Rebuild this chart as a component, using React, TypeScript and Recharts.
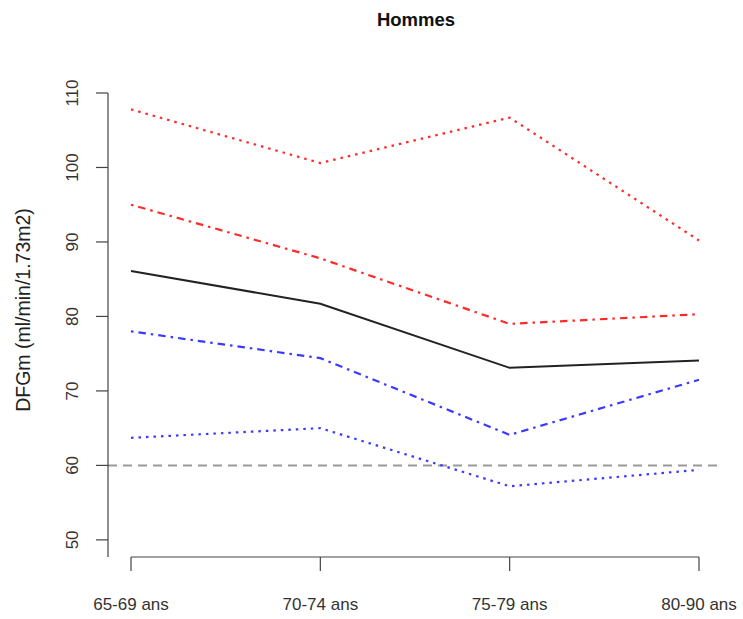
import { LineChart, Line, XAxis, YAxis, ReferenceLine } from 'recharts';

const categories = ['65-69 ans', '70-74 ans', '75-79 ans', '80-90 ans'];
const redDotted = [107.8, 100.6, 106.7, 90.2];
const redDashDot = [95.0, 87.8, 79.0, 80.3];
const meanLine = [86.1, 81.7, 73.1, 74.1];
const blueDashDot = [78.0, 74.4, 64.1, 71.5];
const blueDotted = [63.7, 65.0, 57.2, 59.4];
const yTicks = [50, 60, 70, 80, 90, 100, 110];
const threshold = 60;

const data = categories.map((name, i) => ({
  name,
  redDotted: redDotted[i],
  redDashDot: redDashDot[i],
  meanLine: meanLine[i],
  blueDashDot: blueDashDot[i],
  blueDotted: blueDotted[i],
}));

const font = '"Liberation Sans", Arial, Helvetica, sans-serif';
const axisColor = '#444';
const yMin = 47.7;

const YTick = ({ x, y, payload }: any) => (
  <text
    x={x}
    y={y}
    transform={`rotate(-90, ${x}, ${y})`}
    textAnchor="middle"
    fontSize={17}
    fontFamily={font}
    fill="#333"
  >
    {payload.value}
  </text>
);

const YTitle = () => (
  <text
    x={30}
    y={310}
    transform="rotate(-90, 30, 310)"
    textAnchor="middle"
    fontSize={19.5}
    fontFamily={font}
    fill="#222"
  >
    DFGm (ml/min/1.73m2)
  </text>
);

export default function App() {
  return (
    <div style={{ position: 'absolute', left: 0, top: 0, width: 743, height: 619, background: '#fff' }}>
      <div
        style={{
          position: 'absolute',
          left: 216,
          top: 10,
          width: 400,
          textAlign: 'center',
          fontFamily: font,
          fontWeight: 'bold',
          fontSize: 18.5,
          lineHeight: '20px',
          color: '#111',
        }}
      >
        Hommes
      </div>
      <LineChart
        width={743}
        height={619}
        data={data}
        margin={{ top: 93, right: 21, bottom: 0, left: 0 }}
      >
        <XAxis
          dataKey="name"
          height={62}
          padding={{ left: 23, right: 23 }}
          axisLine={false}
          tickLine={{ stroke: axisColor, strokeWidth: 1.2 }}
          tickSize={14}
          tickMargin={27}
          tick={{ fontSize: 17, fontFamily: font, fill: '#333' }}
          interval={0}
        />
        <YAxis
          width={108}
          domain={[yMin, 110]}
          ticks={yTicks}
          allowDataOverflow
          axisLine={{ stroke: axisColor, strokeWidth: 1.2 }}
          tickLine={{ stroke: axisColor, strokeWidth: 1.2 }}
          tickSize={12}
          tickMargin={18}
          tick={<YTick />}
          label={<YTitle />}
        />
        <ReferenceLine
          segment={[
            { x: categories[0], y: yMin },
            { x: categories[categories.length - 1], y: yMin },
          ]}
          stroke={axisColor}
          strokeWidth={1.2}
          ifOverflow="visible"
        />
        <ReferenceLine y={threshold} stroke="#9a9a9a" strokeWidth={2} strokeDasharray="9 6" />
        <Line dataKey="redDotted" stroke="#ff2a2a" strokeWidth={2.2} strokeDasharray="2.5 5" dot={false} isAnimationActive={false} />
        <Line dataKey="redDashDot" stroke="#ff2a2a" strokeWidth={2.2} strokeDasharray="2.5 5 7.5 5" dot={false} isAnimationActive={false} />
        <Line dataKey="meanLine" stroke="#222" strokeWidth={2} dot={false} isAnimationActive={false} />
        <Line dataKey="blueDashDot" stroke="#3a3aff" strokeWidth={2.2} strokeDasharray="2.5 5 7.5 5" dot={false} isAnimationActive={false} />
        <Line dataKey="blueDotted" stroke="#3a3aff" strokeWidth={2.2} strokeDasharray="2.5 5" dot={false} isAnimationActive={false} />
      </LineChart>
    </div>
  );
}
